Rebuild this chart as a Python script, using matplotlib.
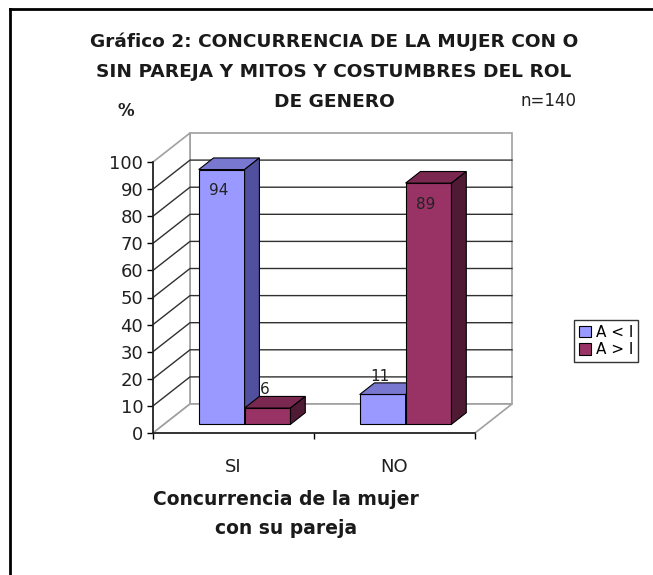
import matplotlib
matplotlib.use("Agg")
import matplotlib.pyplot as plt
from matplotlib.patches import Polygon, Rectangle, Patch
from matplotlib.lines import Line2D

# ---- data ----
categories = ["SI", "NO"]
series_names = ["A < I", "A > I"]
values_a_lt_i = [94, 11]
values_a_gt_i = [6, 89]
yticks = [0, 10, 20, 30, 40, 50, 60, 70, 80, 90, 100]
title_lines = ["Gráfico 2: CONCURRENCIA DE LA MUJER CON O",
               "SIN PAREJA Y MITOS Y COSTUMBRES DEL ROL",
               "DE GENERO"]
n_label = "n=140"
y_unit = "%"
x_title = "Concurrencia de la mujer\ncon su pareja"

# ---- style ----
W, H = 653, 575
plt.rcParams['font.family'] = ['DejaVu Sans']
fig = plt.figure(figsize=(W / 100, H / 100), dpi=100)
fig.patch.set_facecolor("white")

# front plane of the 3D box (pixel bounds)
x0p, x1p, y0p, y1p = 153, 475, 433, 162
ax = fig.add_axes([x0p / W, 1 - y0p / H, (x1p - x0p) / W, (y0p - y1p) / H])
xmin, xmax = -0.5, 1.5
ymin, ymax = 0, 100
ax.set_xlim(xmin, xmax)
ax.set_ylim(ymin, ymax)
ax.patch.set_alpha(0)

# depth offsets in data units
DX = 37 / ((x1p - x0p) / (xmax - xmin))
DY = 29 / ((y0p - y1p) / (ymax - ymin))

wall_edge = "#a0a0a0"
grid_col = "#303030"

# back wall
ax.add_patch(Rectangle((xmin + DX, DY), xmax - xmin, ymax, facecolor="white",
                       edgecolor=wall_edge, lw=1.2, clip_on=False, zorder=1))
# left wall
ax.add_patch(Polygon([(xmin, 0), (xmin + DX, DY), (xmin + DX, ymax + DY), (xmin, ymax)],
                     closed=True, facecolor="white", edgecolor=wall_edge, lw=1.2,
                     clip_on=False, zorder=1))
# floor
ax.add_patch(Polygon([(xmin, 0), (xmax, 0), (xmax + DX, DY), (xmin + DX, DY)],
                     closed=True, facecolor="white", edgecolor=wall_edge, lw=1.2,
                     clip_on=False, zorder=1))
# gridlines
for t in yticks[1:-1]:
    ax.plot([xmin, xmin + DX, xmax + DX], [t, t + DY, t + DY], color=grid_col,
            lw=1.0, clip_on=False, zorder=2)

# bars
f0, fd = 0.3, 0.4
bw = 0.285
colors = [("#9999FF", "#7878D0", "#50509E"), ("#993366", "#7A2850", "#4E1A34")]
series = [values_a_lt_i, values_a_gt_i]
ox, oy = f0 * DX, f0 * DY
dx, dy = fd * DX, fd * DY
z = 3
for ci in range(len(categories)):
    for si, vals in enumerate(series):
        v = vals[ci]
        xc = ci + (si - 0.5) * bw
        xl, xr = xc - bw / 2 + ox, xc + bw / 2 + ox
        front, top, side = colors[si]
        ax.bar(xc + ox, v, width=bw, bottom=oy, color=front, edgecolor="black",
               lw=0.8, zorder=z, clip_on=False)
        ax.add_patch(Polygon([(xl, v + oy), (xr, v + oy), (xr + dx, v + oy + dy),
                              (xl + dx, v + oy + dy)], closed=True, facecolor=top,
                             edgecolor="black", lw=0.8, zorder=z, clip_on=False))
        ax.add_patch(Polygon([(xr, oy), (xr + dx, oy + dy), (xr + dx, v + oy + dy),
                              (xr, v + oy)], closed=True, facecolor=side,
                             edgecolor="black", lw=0.8, zorder=z, clip_on=False))
        ly = v - 4.5 if v > 50 else v + 10
        ax.text(xc + ox - 0.02, ly, str(v), ha="center", va="center",
                fontsize=11, color="#222222", zorder=z + 1)
        z += 1

# axes styling
for s in ["top", "right"]:
    ax.spines[s].set_visible(False)
for s in ["left", "bottom"]:
    ax.spines[s].set_color("#202020")
    ax.spines[s].set_linewidth(1.2)
    ax.spines[s].set_zorder(10)
ax.set_yticks(yticks)
ax.set_yticklabels([str(t) for t in yticks], fontsize=13, color="#202020")
ax.tick_params(axis="y", direction="out", length=4, width=1, pad=3)
ax.set_xticks([xmin, 0.5, xmax])
ax.set_xticklabels([])
ax.tick_params(axis="x", direction="out", length=4, width=1)
ax.set_xticks(range(len(categories)), minor=True)
ax.set_xticklabels(categories, minor=True, fontsize=13, color="#202020")
ax.tick_params(axis="x", which="minor", length=0, pad=18)

# titles and labels
for i, line in enumerate(title_lines):
    fig.text(334 / W, 1 - (42 + 30 * i) / H, line, ha="center", va="center",
             fontsize=13.3, fontweight="bold", color="#1a1a1a")
fig.text(549 / W, 1 - 101 / H, n_label, ha="center", va="center", fontsize=12,
         color="#202020")
fig.text(126 / W, 1 - 111 / H, y_unit, ha="center", va="center", fontsize=12,
         fontweight="bold", color="#202020")
fig.text(286 / W, 1 - 514 / H, x_title, ha="center", va="center", fontsize=13.5,
         fontweight="bold", color="#1a1a1a", linespacing=1.65)

# legend
handles = [Patch(facecolor=colors[i][0], edgecolor="black", lw=0.8) for i in range(2)]
leg = fig.legend(handles, series_names, loc="center",
                 bbox_to_anchor=(606 / W, 1 - 341 / H), bbox_transform=fig.transFigure,
                 fontsize=11, frameon=True, fancybox=False, handlelength=0.8,
                 handleheight=0.8, handletextpad=0.3, borderpad=0.35,
                 labelspacing=0.15, borderaxespad=0)
leg.get_frame().set_edgecolor("black")
leg.get_frame().set_linewidth(1.0)

# outer frame (top and left edges visible)
fig.add_artist(Line2D([9.5 / W, 9.5 / W], [0, 1 - 8.5 / H], transform=fig.transFigure,
                      color="black", lw=2))
fig.add_artist(Line2D([9.5 / W, 1], [1 - 8.5 / H, 1 - 8.5 / H], transform=fig.transFigure,
                      color="black", lw=2))

fig.savefig("out.png", dpi=100)
